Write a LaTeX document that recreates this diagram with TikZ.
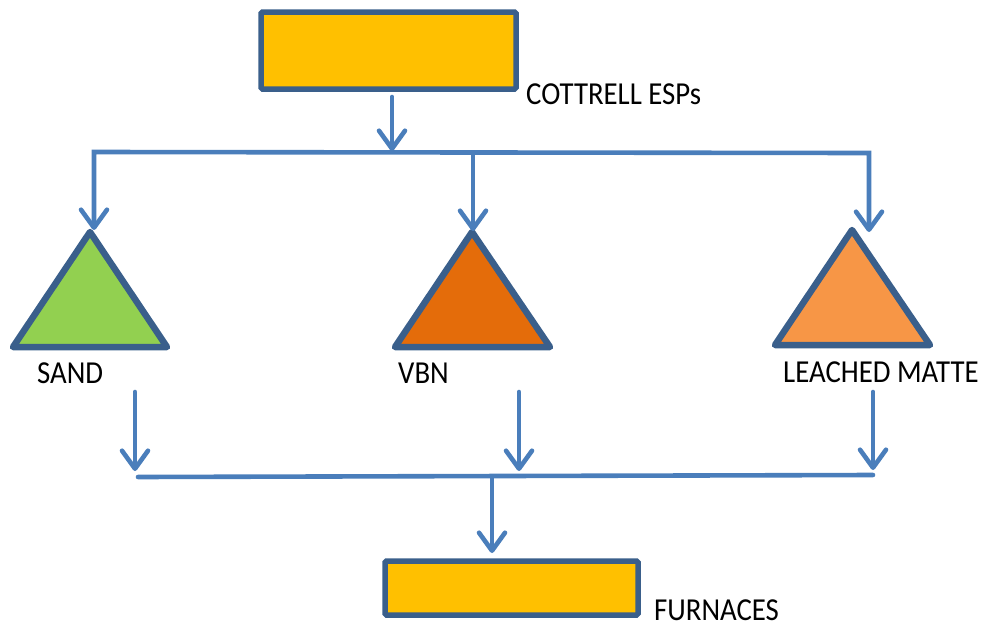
\documentclass[tikz,border=0pt]{standalone}
\usepackage{fontspec}
\setmainfont{Carlito}
\usetikzlibrary{arrows.meta}
\definecolor{connc}{HTML}{4A7EBB}
\definecolor{edgec}{HTML}{3A5F8B}
\definecolor{boxc}{HTML}{FFC000}
\definecolor{sandc}{HTML}{92D050}
\definecolor{vbnc}{HTML}{E46C0A}
\definecolor{leachc}{HTML}{F79646}
\begin{document}
\begin{tikzpicture}[x=1pt,y=-1pt,
  conn/.style={draw=connc, line width=4.6pt, line cap=round},
  arr/.style={conn, -{Straight Barb[length=18pt,width=26pt,round]}},
  darr/.style={conn, {Straight Barb[length=18pt,width=26pt,round]}-{Straight Barb[length=18pt,width=26pt,round]}},
  boxst/.style={draw=edgec, fill=boxc, line width=5.5pt, rounded corners=1.5pt, inner sep=0pt},
  tri/.style={draw=edgec, line width=6.5pt, line join=round},
  lbl/.style={anchor=base west, inner sep=0pt, font=\fontsize{32pt}{36pt}\selectfont}
]
\useasboundingbox (0,0) rectangle (986,627);

% boxes
\node (top) [boxst, minimum width=255pt, minimum height=77pt] at (388.5,50.5) {};
\node (furn) [boxst, minimum width=253pt, minimum height=54pt] at (511.5,588) {};

% triangles
\coordinate (sandA) at (90,232);  \coordinate (sandL) at (13,347);  \coordinate (sandR) at (167,347);
\coordinate (vbnA) at (472,232);  \coordinate (vbnL) at (395,347);  \coordinate (vbnR) at (550,347);
\coordinate (leaA) at (852,230);  \coordinate (leaL) at (775,345);  \coordinate (leaR) at (930,345);
\filldraw[tri, fill=sandc] (sandA) -- (sandR) -- (sandL) -- cycle;
\filldraw[tri, fill=vbnc] (vbnA) -- (vbnR) -- (vbnL) -- cycle;
\filldraw[tri, fill=leachc] (leaA) -- (leaR) -- (leaL) -- cycle;

% labels
\node (tlbl) [lbl] at (526,104) {\scalebox{0.9}[1]{COTTRELL ESPs}};
\node (slbl) [lbl] at (37,383) {\scalebox{0.9}[1]{SAND}};
\node (vlbl) [lbl] at (398,383) {\scalebox{0.9}[1]{VBN}};
\node (llbl) [lbl] at (783,382) {\scalebox{0.9}[1]{LEACHED MATTE}};
\node (flbl) [lbl] at (654,620) {\scalebox{0.9}[1]{FURNACES}};

% top distribution
\coordinate (t0) at (392,97);
\coordinate (t1) at (392,151);
\draw[arr] (t0) -- (t1);
\coordinate (sIn) at (94,230);
\coordinate (vIn) at (473,231);
\coordinate (lIn) at (869,232);
\draw[darr] (sIn) -- (94,152) -- (869,153) -- (lIn);
\draw[arr] (473,154) -- (vIn);

% bottom collection
\coordinate (sOut) at (135,392);
\coordinate (vOut) at (519,392);
\coordinate (lOut) at (873,392);
\draw[arr] (sOut) -- (135,471);
\draw[arr] (vOut) -- (519,471);
\draw[arr] (lOut) -- (873,470);
\coordinate (bl) at (138,477);
\coordinate (br) at (873,475);
\draw[conn] (bl) -- (br);
\coordinate (bm) at (492,477);
\coordinate (fIn) at (492,553);
\draw[arr] (bm) -- (fIn);
\end{tikzpicture}
\end{document}
